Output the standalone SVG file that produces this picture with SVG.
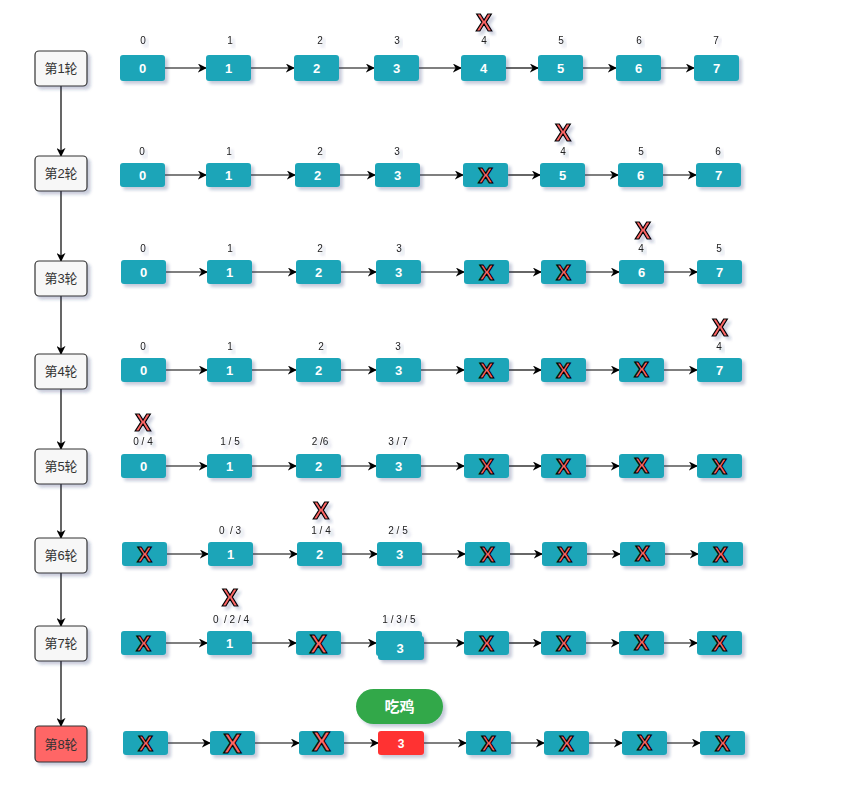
<svg xmlns="http://www.w3.org/2000/svg" width="867" height="797" viewBox="0 0 867 797">
<defs>
<filter id="sh" x="-20%" y="-20%" width="150%" height="160%">
<feDropShadow dx="3" dy="3" stdDeviation="1.6" flood-color="#1a2a6c" flood-opacity="0.25"/>
</filter>
<marker id="ar" viewBox="0 0 10 10" refX="9" refY="5" markerWidth="9" markerHeight="9" markerUnits="userSpaceOnUse" orient="auto">
<path d="M0,0 L10,5 L0,10 L3,5 Z" fill="#000"/>
</marker>
</defs>
<style>
text{font-family:"Liberation Sans","Noto Sans CJK SC",sans-serif;text-anchor:middle;}
.b{fill:#1CA5B8;filter:url(#sh);}
.bt{fill:#fff;font-weight:bold;font-size:13px;}
.r{fill:#F7F7F7;stroke:#333;stroke-width:1.2;filter:url(#sh);}
.rt{fill:#333;font-size:13px;}
.l{fill:#222;font-size:10px;filter:url(#sh);white-space:pre;}
.x{fill:#FF6666;stroke:#000;stroke-width:1.2;font-weight:bold;font-size:24px;filter:url(#sh);}
.xb{fill:#FF6666;stroke:#000;stroke-width:1.2;font-weight:bold;font-size:22px;}
.c{stroke:#000;stroke-width:1.2;fill:none;marker-end:url(#ar);}
</style>

<g id="connectors">
<path class="c" d="M61,86 V156"/>
<path class="c" d="M61,191 V261"/>
<path class="c" d="M61,296 V354"/>
<path class="c" d="M61,389 V449"/>
<path class="c" d="M61,484 V538"/>
<path class="c" d="M61,573 V626"/>
<path class="c" d="M61,661 V726"/>
<path class="c" d="M165,68 H206"/><path class="c" d="M251,68 H294"/><path class="c" d="M339,68 H374"/><path class="c" d="M419,68 H461"/><path class="c" d="M506,68 H538"/><path class="c" d="M583,68 H616"/><path class="c" d="M661,68 H694"/>
<path class="c" d="M165,175 H206"/><path class="c" d="M251,175 H295"/><path class="c" d="M340,175 H375"/><path class="c" d="M420,175 H463"/><path class="c" d="M508,175 H540"/><path class="c" d="M585,175 H618"/><path class="c" d="M663,175 H696"/>
<path class="c" d="M166,272 H207"/><path class="c" d="M252,272 H296"/><path class="c" d="M341,272 H376"/><path class="c" d="M421,272 H464"/><path class="c" d="M509,272 H541"/><path class="c" d="M586,272 H619"/><path class="c" d="M664,272 H697"/>
<path class="c" d="M166,370 H207"/><path class="c" d="M252,370 H296"/><path class="c" d="M341,370 H376"/><path class="c" d="M421,370 H464"/><path class="c" d="M509,370 H541"/><path class="c" d="M586,370 H619"/><path class="c" d="M664,370 H697"/>
<path class="c" d="M166,466 H207"/><path class="c" d="M252,466 H296"/><path class="c" d="M341,466 H376"/><path class="c" d="M421,466 H464"/><path class="c" d="M509,466 H541"/><path class="c" d="M586,466 H619"/><path class="c" d="M664,466 H697"/>
<path class="c" d="M167,554 H208"/><path class="c" d="M253,554 H297"/><path class="c" d="M342,554 H377"/><path class="c" d="M422,554 H465"/><path class="c" d="M510,554 H542"/><path class="c" d="M587,554 H620"/><path class="c" d="M665,554 H698"/>
<path class="c" d="M166,643 H207"/><path class="c" d="M252,643 H296"/><path class="c" d="M341,643 H376"/><path class="c" d="M424,643 H464"/><path class="c" d="M509,643 H541"/><path class="c" d="M586,643 H619"/><path class="c" d="M664,643 H697"/>
<path class="c" d="M168,743 H210"/><path class="c" d="M255,743 H299"/><path class="c" d="M344,743 H378"/><path class="c" d="M424,743 H466"/><path class="c" d="M511,743 H544"/><path class="c" d="M589,743 H622"/><path class="c" d="M667,743 H700"/>
</g>

<g id="round1"><rect class="r" x="35" y="51" width="52" height="35" rx="4"/><text class="rt" x="61" y="73">第1轮</text></g>
<g id="round2"><rect class="r" x="35" y="156" width="52" height="35" rx="4"/><text class="rt" x="61" y="178">第2轮</text></g>
<g id="round3"><rect class="r" x="35" y="261" width="52" height="35" rx="4"/><text class="rt" x="61" y="283">第3轮</text></g>
<g id="round4"><rect class="r" x="35" y="354" width="52" height="35" rx="4"/><text class="rt" x="61" y="376">第4轮</text></g>
<g id="round5"><rect class="r" x="35" y="449" width="52" height="35" rx="4"/><text class="rt" x="61" y="471">第5轮</text></g>
<g id="round6"><rect class="r" x="35" y="538" width="52" height="35" rx="4"/><text class="rt" x="61" y="560">第6轮</text></g>
<g id="round7"><rect class="r" x="35" y="626" width="52" height="35" rx="4"/><text class="rt" x="61" y="648">第7轮</text></g>
<g id="round8"><rect class="r" x="35" y="726" width="52" height="36" rx="4" style="fill:#FF6666"/><text class="rt" x="61" y="749">第8轮</text></g>

<g id="row1">
<text class="l" x="143" y="44">0</text><text class="l" x="230" y="44">1</text><text class="l" x="320" y="44">2</text><text class="l" x="397" y="44">3</text><text class="l" x="484" y="44">4</text><text class="l" x="561" y="44">5</text><text class="l" x="639" y="44">6</text><text class="l" x="716" y="44">7</text>
<text class="x" x="484" y="31">X</text>
<g id="r1n0"><rect class="b" x="120" y="55" width="45" height="26" rx="3"/><text class="bt" x="142.5" y="73">0</text></g>
<g id="r1n1"><rect class="b" x="206" y="55" width="45" height="26" rx="3"/><text class="bt" x="228.5" y="73">1</text></g>
<g id="r1n2"><rect class="b" x="294" y="55" width="45" height="26" rx="3"/><text class="bt" x="316.5" y="73">2</text></g>
<g id="r1n3"><rect class="b" x="374" y="55" width="45" height="26" rx="3"/><text class="bt" x="396.5" y="73">3</text></g>
<g id="r1n4"><rect class="b" x="461" y="55" width="45" height="26" rx="3"/><text class="bt" x="483.5" y="73">4</text></g>
<g id="r1n5"><rect class="b" x="538" y="55" width="45" height="26" rx="3"/><text class="bt" x="560.5" y="73">5</text></g>
<g id="r1n6"><rect class="b" x="616" y="55" width="45" height="26" rx="3"/><text class="bt" x="638.5" y="73">6</text></g>
<g id="r1n7"><rect class="b" x="694" y="55" width="45" height="26" rx="3"/><text class="bt" x="716.5" y="73">7</text></g>
</g>

<g id="row2">
<text class="l" x="142" y="155">0</text><text class="l" x="229" y="155">1</text><text class="l" x="320" y="155">2</text><text class="l" x="397" y="155">3</text><text class="l" x="563" y="155">4</text><text class="l" x="641" y="155">5</text><text class="l" x="718" y="155">6</text>
<text class="x" x="563" y="141">X</text>
<g id="r2n0"><rect class="b" x="120" y="163" width="45" height="24" rx="3"/><text class="bt" x="142.5" y="180">0</text></g>
<g id="r2n1"><rect class="b" x="206" y="163" width="45" height="24" rx="3"/><text class="bt" x="228.5" y="180">1</text></g>
<g id="r2n2"><rect class="b" x="295" y="163" width="45" height="24" rx="3"/><text class="bt" x="317.5" y="180">2</text></g>
<g id="r2n3"><rect class="b" x="375" y="163" width="45" height="24" rx="3"/><text class="bt" x="397.5" y="180">3</text></g>
<g id="r2n4"><rect class="b" x="463" y="163" width="45" height="24" rx="3"/><text class="xb" x="485.5" y="183">X</text></g>
<g id="r2n5"><rect class="b" x="540" y="163" width="45" height="24" rx="3"/><text class="bt" x="562.5" y="180">5</text></g>
<g id="r2n6"><rect class="b" x="618" y="163" width="45" height="24" rx="3"/><text class="bt" x="640.5" y="180">6</text></g>
<g id="r2n7"><rect class="b" x="696" y="163" width="45" height="24" rx="3"/><text class="bt" x="718.5" y="180">7</text></g>
</g>

<g id="row3">
<text class="l" x="143" y="252">0</text><text class="l" x="230" y="252">1</text><text class="l" x="320" y="252">2</text><text class="l" x="399" y="252">3</text><text class="l" x="641" y="252">4</text><text class="l" x="719" y="252">5</text>
<text class="x" x="643" y="239">X</text>
<g id="r3n0"><rect class="b" x="121" y="260" width="45" height="24" rx="3"/><text class="bt" x="143.5" y="277">0</text></g>
<g id="r3n1"><rect class="b" x="207" y="260" width="45" height="24" rx="3"/><text class="bt" x="229.5" y="277">1</text></g>
<g id="r3n2"><rect class="b" x="296" y="260" width="45" height="24" rx="3"/><text class="bt" x="318.5" y="277">2</text></g>
<g id="r3n3"><rect class="b" x="376" y="260" width="45" height="24" rx="3"/><text class="bt" x="398.5" y="277">3</text></g>
<g id="r3n4"><rect class="b" x="464" y="260" width="45" height="24" rx="3"/><text class="xb" x="486.5" y="280">X</text></g>
<g id="r3n5"><rect class="b" x="541" y="260" width="45" height="24" rx="3"/><text class="xb" x="563.5" y="280">X</text></g>
<g id="r3n6"><rect class="b" x="619" y="260" width="45" height="24" rx="3"/><text class="bt" x="641.5" y="277">6</text></g>
<g id="r3n7"><rect class="b" x="697" y="260" width="45" height="24" rx="3"/><text class="bt" x="719.5" y="277">7</text></g>
</g>

<g id="row4">
<text class="l" x="143" y="350">0</text><text class="l" x="230" y="350">1</text><text class="l" x="321" y="350">2</text><text class="l" x="398" y="350">3</text><text class="l" x="719" y="350">4</text>
<text class="x" x="720" y="336">X</text>
<g id="r4n0"><rect class="b" x="121" y="358" width="45" height="24" rx="3"/><text class="bt" x="143.5" y="375">0</text></g>
<g id="r4n1"><rect class="b" x="207" y="358" width="45" height="24" rx="3"/><text class="bt" x="229.5" y="375">1</text></g>
<g id="r4n2"><rect class="b" x="296" y="358" width="45" height="24" rx="3"/><text class="bt" x="318.5" y="375">2</text></g>
<g id="r4n3"><rect class="b" x="376" y="358" width="45" height="24" rx="3"/><text class="bt" x="398.5" y="375">3</text></g>
<g id="r4n4"><rect class="b" x="464" y="358" width="45" height="24" rx="3"/><text class="xb" x="486.5" y="378">X</text></g>
<g id="r4n5"><rect class="b" x="541" y="358" width="45" height="24" rx="3"/><text class="xb" x="563.5" y="378">X</text></g>
<g id="r4n6"><rect class="b" x="619" y="358" width="45" height="24" rx="3"/><text class="xb" x="641.5" y="377">X</text></g>
<g id="r4n7"><rect class="b" x="697" y="358" width="45" height="24" rx="3"/><text class="bt" x="719.5" y="375">7</text></g>
</g>

<g id="row5">
<text class="l" x="143" y="445">0 / 4</text><text class="l" x="230" y="445">1 / 5</text><text class="l" x="320" y="445">2 /6</text><text class="l" x="398" y="445">3 / 7</text>
<text class="x" x="143" y="431">X</text>
<g id="r5n0"><rect class="b" x="121" y="454" width="45" height="24" rx="3"/><text class="bt" x="143.5" y="471">0</text></g>
<g id="r5n1"><rect class="b" x="207" y="454" width="45" height="24" rx="3"/><text class="bt" x="229.5" y="471">1</text></g>
<g id="r5n2"><rect class="b" x="296" y="454" width="45" height="24" rx="3"/><text class="bt" x="318.5" y="471">2</text></g>
<g id="r5n3"><rect class="b" x="376" y="454" width="45" height="24" rx="3"/><text class="bt" x="398.5" y="471">3</text></g>
<g id="r5n4"><rect class="b" x="464" y="454" width="45" height="24" rx="3"/><text class="xb" x="486.5" y="474">X</text></g>
<g id="r5n5"><rect class="b" x="541" y="454" width="45" height="24" rx="3"/><text class="xb" x="563.5" y="474">X</text></g>
<g id="r5n6"><rect class="b" x="619" y="454" width="45" height="24" rx="3"/><text class="xb" x="641.5" y="473">X</text></g>
<g id="r5n7"><rect class="b" x="697" y="454" width="45" height="24" rx="3"/><text class="xb" x="719.5" y="474">X</text></g>
</g>

<g id="row6">
<text class="l" x="230" y="534">0  / 3</text><text class="l" x="321" y="534">1 / 4</text><text class="l" x="398" y="534">2 / 5</text>
<text class="x" x="321" y="519">X</text>
<g id="r6n0"><rect class="b" x="122" y="542" width="45" height="24" rx="3"/><text class="xb" x="144.5" y="562">X</text></g>
<g id="r6n1"><rect class="b" x="208" y="542" width="45" height="24" rx="3"/><text class="bt" x="230.5" y="559">1</text></g>
<g id="r6n2"><rect class="b" x="297" y="542" width="45" height="24" rx="3"/><text class="bt" x="319.5" y="559">2</text></g>
<g id="r6n3"><rect class="b" x="377" y="542" width="45" height="24" rx="3"/><text class="bt" x="399.5" y="559">3</text></g>
<g id="r6n4"><rect class="b" x="465" y="542" width="45" height="24" rx="3"/><text class="xb" x="487.5" y="562">X</text></g>
<g id="r6n5"><rect class="b" x="542" y="542" width="45" height="24" rx="3"/><text class="xb" x="564.5" y="562">X</text></g>
<g id="r6n6"><rect class="b" x="620" y="542" width="45" height="24" rx="3"/><text class="xb" x="642.5" y="561">X</text></g>
<g id="r6n7"><rect class="b" x="698" y="542" width="45" height="24" rx="3"/><text class="xb" x="720.5" y="562">X</text></g>
</g>

<g id="row7">
<text class="l" x="231" y="623">0  / 2 / 4</text><text class="l" x="399" y="623">1 / 3 / 5</text>
<text class="x" x="230" y="606">X</text>
<g id="r7n0"><rect class="b" x="121" y="631" width="45" height="24" rx="3"/><text class="xb" x="143.5" y="651">X</text></g>
<g id="r7n1"><rect class="b" x="207" y="631" width="45" height="24" rx="3"/><text class="bt" x="229.5" y="648">1</text></g>
<g id="r7n2"><rect class="b" x="296" y="631" width="45" height="24" rx="3"/><text class="xb" x="318.5" y="653" style="font-size:26px">X</text></g>
<g id="r7n3"><rect class="b" x="376" y="631" width="46" height="25" rx="3"/><rect class="b" x="378" y="636" width="46" height="24" rx="3"/><text class="bt" x="400" y="653">3</text></g>
<g id="r7n4"><rect class="b" x="464" y="631" width="45" height="24" rx="3"/><text class="xb" x="486.5" y="651">X</text></g>
<g id="r7n5"><rect class="b" x="541" y="631" width="45" height="24" rx="3"/><text class="xb" x="563.5" y="651">X</text></g>
<g id="r7n6"><rect class="b" x="619" y="631" width="45" height="24" rx="3"/><text class="xb" x="641.5" y="650">X</text></g>
<g id="r7n7"><rect class="b" x="697" y="631" width="45" height="24" rx="3"/><text class="xb" x="719.5" y="651">X</text></g>
</g>

<g id="row8">
<g id="win"><rect x="356" y="689" width="87" height="35" rx="17.5" fill="#33A84A" filter="url(#sh)"/><text x="399.5" y="712" style="fill:#fff;font-weight:bold;font-size:15px">吃鸡</text></g>
<g id="r8n0"><rect class="b" x="123" y="731" width="45" height="24" rx="3"/><text class="xb" x="145.5" y="751">X</text></g>
<g id="r8n1"><rect class="b" x="210" y="731" width="45" height="24" rx="3"/><text class="xb" x="232.5" y="753" style="font-size:27px">X</text></g>
<g id="r8n2"><rect class="b" x="299" y="731" width="45" height="24" rx="3"/><text class="xb" x="321.5" y="751" style="font-size:27px">X</text></g>
<g id="r8n3"><rect x="378" y="731" width="46" height="24" rx="3" fill="#FF3333" filter="url(#sh)"/><text class="bt" x="401" y="748" style="font-size:12px">3</text></g>
<g id="r8n4"><rect class="b" x="466" y="731" width="45" height="24" rx="3"/><text class="xb" x="488.5" y="751">X</text></g>
<g id="r8n5"><rect class="b" x="544" y="731" width="45" height="24" rx="3"/><text class="xb" x="566.5" y="751">X</text></g>
<g id="r8n6"><rect class="b" x="622" y="731" width="45" height="24" rx="3"/><text class="xb" x="644.5" y="750">X</text></g>
<g id="r8n7"><rect class="b" x="700" y="731" width="45" height="24" rx="3"/><text class="xb" x="722.5" y="751">X</text></g>
</g>
</svg>
